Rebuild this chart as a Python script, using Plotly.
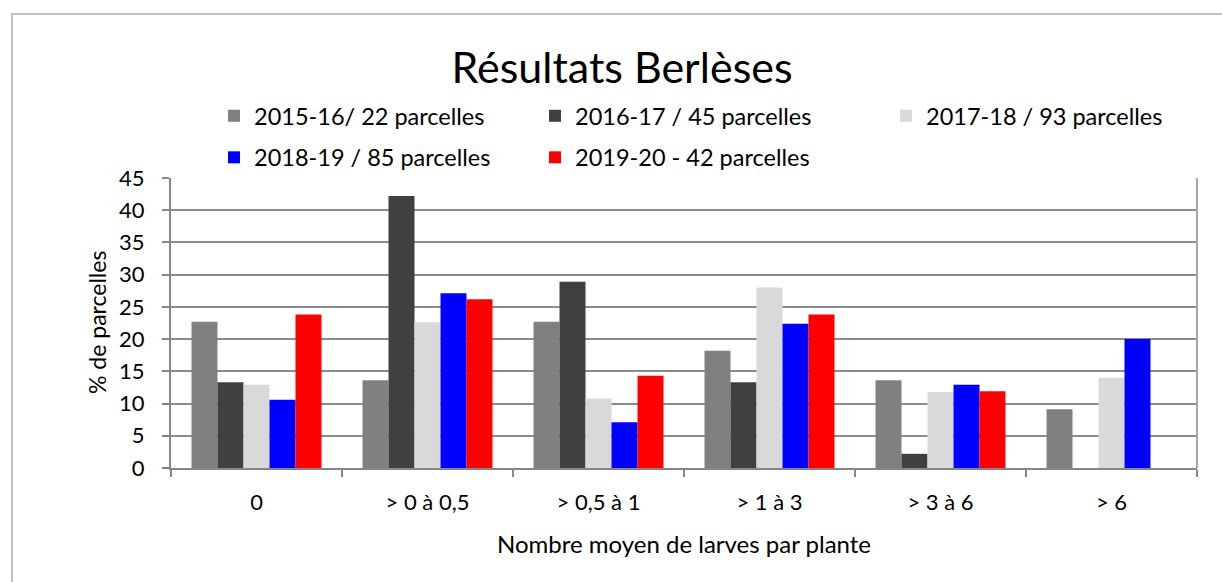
import plotly.graph_objects as go

categories = ["0", "> 0 à 0,5", "> 0,5 à 1", "> 1 à 3", "> 3 à 6", "> 6"]
s2015 = [22.7, 13.6, 22.7, 18.2, 13.6, 9.1]
s2016 = [13.3, 42.2, 28.9, 13.3, 2.2, 0]
s2017 = [12.9, 22.6, 10.8, 28.0, 11.8, 14.0]
s2018 = [10.6, 27.1, 7.1, 22.4, 12.9, 20.0]
s2019 = [23.8, 26.2, 14.3, 23.8, 11.9, 0]
names = ["2015-16/ 22 parcelles", "2016-17 / 45 parcelles", "2017-18 / 93 parcelles",
         "2018-19 / 85 parcelles", "2019-20 - 42 parcelles"]
series = [s2015, s2016, s2017, s2018, s2019]
colors = ["#808080", "#404040", "#D9D9D9", "#0000FF", "#FF0000"]
legends = ["legend", "legend2", "legend3", "legend", "legend2"]

FONT = "Lato"
W, H = 1222, 582
L, R, T, B = 171, 25, 178, 114

fig = go.Figure()
for i, (nm, vals, c, lg) in enumerate(zip(names, series, colors, legends)):
    fig.add_trace(go.Bar(x=categories, y=vals, name=nm, marker_color=c,
                         marker_line_width=0, legend=lg, legendgroup=nm))

leg_common = dict(xref="container", yref="container", xanchor="left", yanchor="top",
                  orientation="v", font=dict(family=FONT, size=23.5, color="#000"),
                  bgcolor="rgba(0,0,0,0)", tracegroupgap=8, itemwidth=30)
top_y = 1 - 94 / H
fig.update_layout(
    width=W, height=H,
    margin=dict(l=L, r=R, t=T, b=B, autoexpand=False),
    paper_bgcolor="white", plot_bgcolor="white",
    barmode="group", bargap=0.24, bargroupgap=0,
    title=dict(text="Résultats Berlèses", x=0.509, xanchor="center", y=1 - 68 / H,
               yanchor="middle", font=dict(family=FONT, size=43, color="#000")),
    legend=dict(x=214 / W, y=top_y, **leg_common),
    legend2=dict(x=535 / W, y=top_y, **leg_common),
    legend3=dict(x=886 / W, y=top_y, **leg_common),
    xaxis=dict(showline=True, linecolor="#868686", linewidth=2, mirror=False,
               ticks="outside", ticklen=7, tickcolor="#868686", tickwidth=2,
               tickson="boundaries", showgrid=False, tickangle=0,
               ticklabelstandoff=14,
               tickfont=dict(family=FONT, size=22, color="#000"),
               title=dict(text="Nombre moyen de larves par plante", standoff=22,
                          font=dict(family=FONT, size=24, color="#000"))),
    yaxis=dict(range=[0, 45], dtick=5, showline=True, linecolor="#868686", linewidth=2,
               ticks="outside", ticklen=7, tickcolor="#868686", tickwidth=2,
               ticklabelstandoff=13,
               showgrid=True, gridcolor="#8C8C8C", gridwidth=2, zeroline=False,
               tickfont=dict(family=FONT, size=22, color="#000")),
    annotations=[dict(text="% de parcelles", textangle=-90, xref="paper", yref="paper",
                      x=(97 - L) / (W - L - R), y=0.5, xanchor="center", yanchor="middle",
                      showarrow=False, font=dict(family=FONT, size=23, color="#000"))],
)
pw, ph = W - L - R, H - T - B
# plot area right border
fig.add_shape(type="line", xref="paper", yref="paper", x0=1, x1=1, y0=0, y1=1,
              line=dict(color="#A6A6A6", width=2))
# outer chart border
fig.add_shape(type="rect", xref="paper", yref="paper",
              x0=(12 - L) / pw, x1=(W + 10 - L) / pw,
              y0=-(H + 10 - (H - B)) / ph, y1=((H - B) - 14) / ph,
              line=dict(color="#C0C0C0", width=2), layer="below")

fig.write_html("out.html", config={"displayModeBar": False},
               post_script="document.body.style.margin='0';")
